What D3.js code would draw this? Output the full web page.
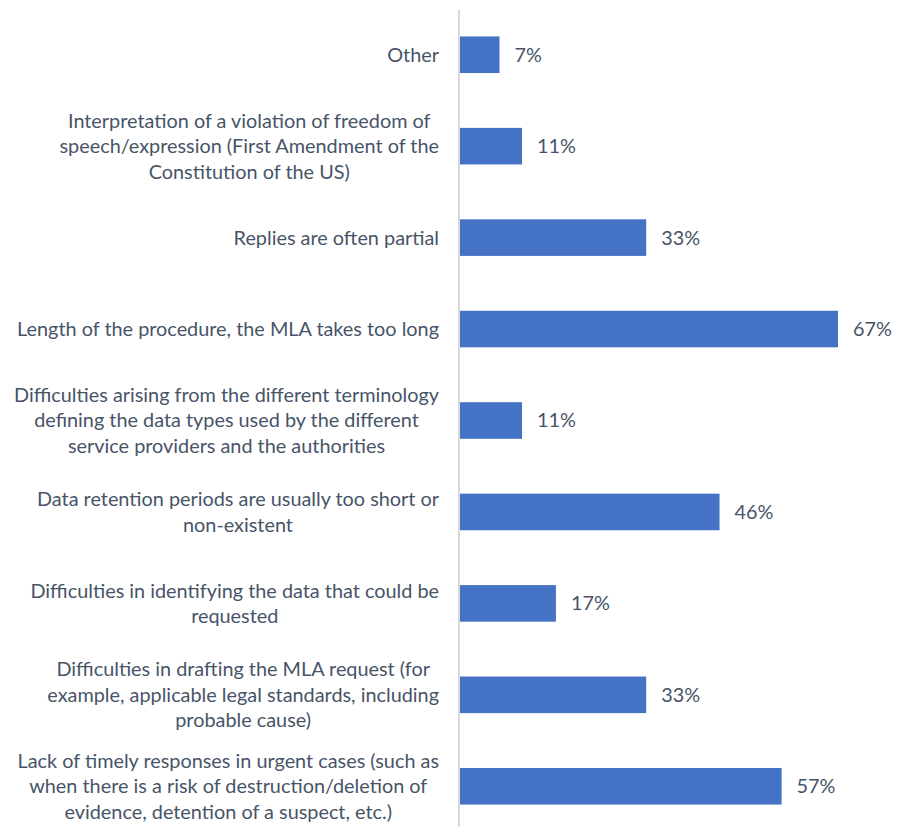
<!DOCTYPE html>
<html>
<head>
<meta charset="utf-8">
<script src="https://cdn.jsdelivr.net/npm/d3@7"></script>
<style>
  html, body { margin: 0; padding: 0; background: #ffffff; }
  svg { display: block; }
</style>
</head>
<body>
<svg id="chart" width="897" height="827"></svg>
<script>
// Reported difficulties, top to bottom, each label split into its display lines
const categories = [
  ["Other"],
  ["Interpretation of a violation of freedom of", "speech/expression (First Amendment of the", "Constitution of the US)"],
  ["Replies are often partial"],
  ["Length of the procedure, the MLA takes too long"],
  ["Difficulties arising from the different terminology", "defining the data types used by the different", "service providers and the authorities"],
  ["Data retention periods are usually too short or", "non-existent"],
  ["Difficulties in identifying the data that could be", "requested"],
  ["Difficulties in drafting the MLA request (for", "example, applicable legal standards, including", "probable cause)"],
  ["Lack of timely responses in urgent cases (such as", "when there is a risk of destruction/deletion of", "evidence, detention of a suspect, etc.)"]
];
const values = [7, 11, 33, 67, 11, 46, 17, 33, 57];

const svg = d3.select("#chart");
const textColor = "#475468";
const barColor = "#4472C4";
const fontFamily = "Lato, 'Open Sans', sans-serif";
const fontSize = 19.85;
const lineHeight = 25.5;

const ids = d3.range(categories.length);
const y = d3.scaleBand().domain(ids).range([9, 832]).paddingInner(0.6).paddingOuter(0.3);
const x = d3.scaleLinear().domain([0, 67]).range([460, 838]);

// Category axis line
svg.append("line")
  .attr("x1", 459).attr("x2", 459)
  .attr("y1", 10).attr("y2", 827)
  .attr("stroke", "#d9d9d9").attr("stroke-width", 2);

// Bars
svg.append("g").selectAll("rect")
  .data(ids)
  .join("rect")
  .attr("x", x(0))
  .attr("y", i => y(i))
  .attr("width", i => x(values[i]) - x(0))
  .attr("height", y.bandwidth())
  .attr("fill", barColor);

// Value labels
svg.append("g").selectAll("text")
  .data(ids)
  .join("text")
  .attr("x", i => x(values[i]) + 15)
  .attr("y", i => y(i) + y.bandwidth() / 2)
  .attr("dy", "0.35em")
  .attr("fill", textColor)
  .attr("font-family", fontFamily)
  .attr("font-size", fontSize)
  .text(i => values[i] + "%");

// Category labels, centered as a block and right-aligned in the label column
const labels = svg.append("g").selectAll("text")
  .data(ids)
  .join("text")
  .attr("fill", textColor)
  .attr("font-family", fontFamily)
  .attr("font-size", fontSize)
  .attr("text-anchor", "middle");

labels.each(function(i) {
  const lines = categories[i];
  const cy = y(i) + y.bandwidth() / 2;
  const t = d3.select(this);
  lines.forEach((ln, k) => {
    t.append("tspan")
      .attr("y", cy + (k - (lines.length - 1) / 2) * lineHeight)
      .attr("dy", "0.35em")
      .text(ln);
  });
  // widest line sets the block's right edge
  let maxW = 0;
  t.selectAll("tspan").each(function() { maxW = Math.max(maxW, this.getComputedTextLength()); });
  const cx = 439 - maxW / 2;
  t.selectAll("tspan").attr("x", cx);
});
</script>
</body>
</html>
